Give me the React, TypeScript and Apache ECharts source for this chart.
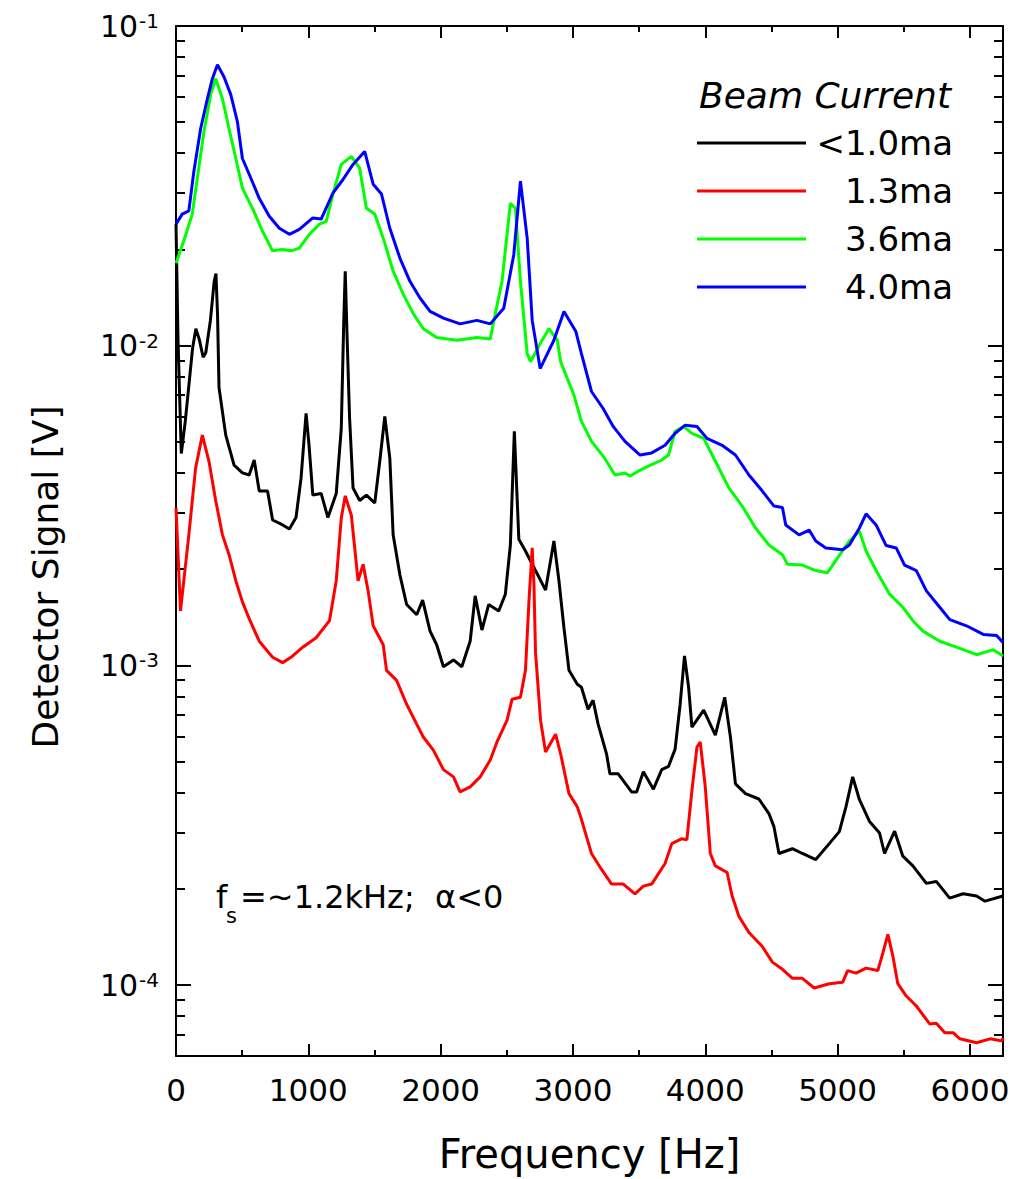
import React, { useEffect, useRef } from 'react';
import * as echarts from 'echarts';

const FONT = 'DejaVu Sans';

// [frequency Hz, detector signal V]
const blackData: [number, number][] = [
  [0, 0.024], [15, 0.0105], [40, 0.0046], [70, 0.0058], [95, 0.00735], [125, 0.0098], [150, 0.0113], [175, 0.0105],
  [205, 0.0092], [225, 0.0095], [260, 0.012], [288, 0.0158], [302, 0.0168], [314, 0.0125], [325, 0.0074], [376, 0.00525],
  [439, 0.00423], [502, 0.004], [553, 0.00394], [591, 0.00439], [629, 0.00351], [692, 0.00351], [730, 0.00285], [806, 0.00275],
  [857, 0.00267], [907, 0.0029], [945, 0.00385], [983, 0.00614], [1005, 0.0049], [1034, 0.00341], [1097, 0.00345], [1148, 0.0029],
  [1211, 0.00345], [1249, 0.00551], [1268, 0.012], [1279, 0.0171], [1292, 0.011], [1312, 0.00592], [1338, 0.00359], [1388, 0.00328],
  [1439, 0.00341], [1502, 0.00322], [1540, 0.00435], [1578, 0.00601], [1616, 0.00444], [1641, 0.00256], [1692, 0.00192], [1743, 0.00155],
  [1819, 0.00144], [1864, 0.0016], [1920, 0.00128], [1970, 0.00116], [2021, 0.00099], [2097, 0.00104], [2160, 0.00099], [2223, 0.00119],
  [2261, 0.00165], [2312, 0.00129], [2363, 0.00155], [2439, 0.00148], [2489, 0.00167], [2527, 0.00238], [2557, 0.0054], [2591, 0.00248],
  [2641, 0.00228], [2717, 0.00198], [2793, 0.00172], [2856, 0.00245], [2894, 0.00184], [2932, 0.00131], [2970, 0.000965], [3033, 0.000873],
  [3064, 0.000854], [3114, 0.000729], [3152, 0.000778], [3190, 0.000655], [3254, 0.000528], [3279, 0.000458], [3342, 0.000458], [3443, 0.000402],
  [3481, 0.000402], [3532, 0.000465], [3608, 0.00041], [3671, 0.000472], [3722, 0.000483], [3772, 0.000547], [3810, 0.000756], [3843, 0.00107],
  [3874, 0.000854], [3899, 0.000641], [3988, 0.000724], [4076, 0.000605], [4147, 0.000795], [4190, 0.000597], [4228, 0.000426], [4304, 0.000397],
  [4405, 0.000382], [4481, 0.000344], [4519, 0.000313], [4557, 0.000258], [4658, 0.000267], [4734, 0.000258], [4835, 0.000247], [4937, 0.000277],
  [5013, 0.000302], [5063, 0.000361], [5114, 0.000448], [5165, 0.00038], [5241, 0.000325], [5317, 0.000299], [5355, 0.000258], [5431, 0.000303],
  [5493, 0.000253], [5569, 0.000236], [5671, 0.000208], [5746, 0.000211], [5847, 0.000187], [5949, 0.000193], [6050, 0.00019], [6114, 0.000183],
  [6250, 0.00019],
];

const redData: [number, number][] = [
  [0, 0.00311], [34, 0.00148], [97, 0.00256], [148, 0.00414], [199, 0.00525], [249, 0.00435], [300, 0.00328], [351, 0.00256],
  [401, 0.00222], [452, 0.00184], [502, 0.00158], [553, 0.0014], [629, 0.00119], [730, 0.00106], [806, 0.00102], [869, 0.00106],
  [958, 0.00114], [1059, 0.00122], [1160, 0.00138], [1211, 0.00184], [1249, 0.00289], [1279, 0.00339], [1325, 0.00295], [1376, 0.00184],
  [1414, 0.00207], [1452, 0.00171], [1490, 0.00133], [1566, 0.00116], [1591, 0.000965], [1667, 0.000898], [1743, 0.000756], [1819, 0.000655],
  [1869, 0.000597], [1945, 0.000543], [2021, 0.000472], [2097, 0.000448], [2147, 0.000402], [2223, 0.000417], [2299, 0.000448], [2375, 0.000506],
  [2426, 0.000576], [2502, 0.000674], [2540, 0.000784], [2603, 0.000795], [2641, 0.000965], [2668, 0.0016], [2692, 0.00233], [2705, 0.0018],
  [2717, 0.0011], [2755, 0.000674], [2793, 0.000536], [2869, 0.000609], [2907, 0.000528], [2970, 0.000397], [3033, 0.000361], [3064, 0.00033],
  [3140, 0.000258], [3216, 0.00023], [3292, 0.000207], [3380, 0.000207], [3469, 0.000193], [3532, 0.000204], [3595, 0.000207], [3696, 0.00024],
  [3747, 0.000277], [3823, 0.000287], [3861, 0.000285], [3899, 0.000406], [3937, 0.000555], [3962, 0.000576], [4000, 0.000417], [4038, 0.000258],
  [4076, 0.000236], [4165, 0.000225], [4203, 0.00019], [4254, 0.000164], [4330, 0.000146], [4431, 0.000132], [4507, 0.000118], [4583, 0.000112],
  [4659, 0.000105], [4734, 0.000105], [4823, 0.0000979], [4937, 0.000101], [5038, 0.000102], [5076, 0.000111], [5139, 0.000109], [5215, 0.000113],
  [5304, 0.000111], [5342, 0.000126], [5380, 0.000144], [5418, 0.000123], [5455, 0.000101], [5519, 0.0000924], [5595, 0.000086], [5696, 0.0000756],
  [5746, 0.000076], [5810, 0.0000709], [5873, 0.000071], [5924, 0.0000679], [6050, 0.000066], [6152, 0.0000679], [6240, 0.0000669], [6250, 0.0000684],
];

const greenData: [number, number][] = [
  [0, 0.0181], [59, 0.0213], [123, 0.0258], [161, 0.0334], [211, 0.0467], [262, 0.061], [300, 0.0684], [351, 0.0592],
  [401, 0.0477], [452, 0.0385], [502, 0.0311], [578, 0.0269], [654, 0.0228], [730, 0.0198], [806, 0.02], [869, 0.0198],
  [932, 0.0202], [1008, 0.0223], [1084, 0.024], [1135, 0.0245], [1186, 0.0298], [1249, 0.0369], [1325, 0.0391], [1388, 0.0359],
  [1439, 0.0269], [1502, 0.0258], [1566, 0.0217], [1641, 0.0171], [1717, 0.0145], [1793, 0.0126], [1869, 0.0113], [1970, 0.0106],
  [2122, 0.0104], [2274, 0.0106], [2375, 0.0105], [2413, 0.0126], [2464, 0.0159], [2527, 0.0279], [2565, 0.0269], [2603, 0.0159],
  [2654, 0.00944], [2679, 0.00891], [2755, 0.0102], [2818, 0.0113], [2882, 0.0104], [2907, 0.00891], [3008, 0.00699], [3064, 0.0058],
  [3140, 0.00502], [3241, 0.00444], [3317, 0.00394], [3393, 0.004], [3431, 0.00391], [3494, 0.00405], [3570, 0.0042], [3671, 0.00439],
  [3722, 0.00455], [3772, 0.0054], [3836, 0.00559], [3899, 0.00532], [3988, 0.00513], [4076, 0.00435], [4178, 0.00359], [4279, 0.00315],
  [4380, 0.00269], [4481, 0.00238], [4583, 0.00222], [4621, 0.00207], [4734, 0.00206], [4835, 0.00198], [4924, 0.00195], [4987, 0.00213],
  [5089, 0.00245], [5165, 0.00263], [5215, 0.00228], [5291, 0.00198], [5393, 0.00167], [5493, 0.00152], [5569, 0.00138], [5645, 0.00128],
  [5772, 0.00119], [5898, 0.00114], [6050, 0.00108], [6177, 0.00112], [6250, 0.00107],
];

const blueData: [number, number][] = [
  [0, 0.024], [47, 0.0258], [97, 0.0264], [135, 0.0351], [186, 0.0477], [237, 0.0592], [275, 0.0684], [313, 0.0756],
  [363, 0.0693], [414, 0.061], [464, 0.0502], [502, 0.0385], [566, 0.0334], [629, 0.0289], [705, 0.0254], [781, 0.0233],
  [857, 0.0223], [932, 0.0231], [1034, 0.0251], [1097, 0.0249], [1186, 0.03], [1262, 0.0331], [1338, 0.0369], [1426, 0.0405],
  [1490, 0.032], [1553, 0.0298], [1616, 0.0233], [1692, 0.0188], [1768, 0.0159], [1844, 0.0141], [1920, 0.0128], [2021, 0.0122],
  [2147, 0.0117], [2274, 0.012], [2375, 0.0117], [2477, 0.0131], [2553, 0.0193], [2603, 0.0327], [2654, 0.0217], [2692, 0.012],
  [2752, 0.00848], [2856, 0.0104], [2932, 0.0128], [3021, 0.0111], [3064, 0.00944], [3140, 0.00719], [3228, 0.00636], [3304, 0.00559],
  [3393, 0.00502], [3507, 0.00455], [3595, 0.00462], [3696, 0.00488], [3772, 0.00532], [3848, 0.00564], [3937, 0.00559], [4013, 0.00513],
  [4127, 0.00488], [4228, 0.00455], [4330, 0.00394], [4431, 0.00351], [4519, 0.00315], [4583, 0.00312], [4608, 0.00275], [4709, 0.00256],
  [4785, 0.00265], [4835, 0.00245], [4911, 0.00233], [5038, 0.0023], [5089, 0.00238], [5165, 0.00269], [5215, 0.00298], [5291, 0.00275],
  [5367, 0.00237], [5443, 0.00233], [5506, 0.00206], [5595, 0.00198], [5671, 0.00171], [5772, 0.00152], [5848, 0.00139], [5974, 0.00133],
  [6101, 0.00125], [6202, 0.00124], [6250, 0.00118],
];

const seriesNames = ['<1.0ma', '1.3ma', '3.6ma', '4.0ma'];
const seriesColors = ['#000000', '#ff0000', '#00ff00', '#0000ff'];
const seriesData = [blackData, redData, greenData, blueData];

const xMin = 0;
const xMax = 6250;
const yMin = 6e-5;
const yMax = 0.1;
const xMajorTicks = [0, 1000, 2000, 3000, 4000, 5000, 6000];
const xMinorTicks = [500, 1500, 2500, 3500, 4500, 5500];
const yMajorTicks = [1e-4, 1e-3, 1e-2, 1e-1];
const yMinorTicks = [
  7e-5, 8e-5, 9e-5,
  2e-4, 3e-4, 4e-4, 5e-4, 6e-4, 7e-4, 8e-4, 9e-4,
  2e-3, 3e-3, 4e-3, 5e-3, 6e-3, 7e-3, 8e-3, 9e-3,
  2e-2, 3e-2, 4e-2, 5e-2, 6e-2, 7e-2, 8e-2, 9e-2,
];

const AX = '#000000';

function xAxisDef(position: 'top' | 'bottom', ticks: number[], len: number, showLine: boolean, labels: boolean) {
  const a: any = {
    type: 'value',
    position,
    min: xMin,
    max: xMax,
    axisLine: { show: showLine, onZero: false, lineStyle: { color: AX, width: 2 } },
    axisTick: { show: true, inside: true, length: len, customValues: ticks, lineStyle: { color: AX, width: 2 } },
    axisLabel: labels
      ? {
          show: true,
          customValues: ticks,
          margin: 18,
          formatter: (v: number) => String(v),
          fontFamily: FONT,
          fontSize: 31,
          color: '#000',
        }
      : { show: false },
    splitLine: { show: false },
    minorTick: { show: false },
  };
  if (labels) {
    a.name = 'Frequency [Hz]';
    a.nameLocation = 'middle';
    a.nameGap = 78;
    a.nameTextStyle = { fontFamily: FONT, fontSize: 40, color: '#000' };
  }
  return a;
}

function yAxisDef(position: 'left' | 'right', ticks: number[], len: number, showLine: boolean, labels: boolean) {
  return {
    type: 'log',
    logBase: 10,
    position,
    min: yMin,
    max: yMax,
    axisLine: { show: showLine, onZero: false, lineStyle: { color: AX, width: 2 } },
    axisTick: { show: true, inside: true, length: len, customValues: ticks, lineStyle: { color: AX, width: 2 } },
    axisLabel: labels
      ? {
          show: true,
          customValues: ticks,
          margin: 17,
          formatter: (v: number) => `{b|10}{s|${Math.round(Math.log10(v))}}`,
          rich: {
            b: { fontFamily: FONT, fontSize: 30, lineHeight: 30, verticalAlign: 'bottom', color: '#000' },
            s: { fontFamily: FONT, fontSize: 20, lineHeight: 20, padding: [0, 0, 18, 1], verticalAlign: 'top', color: '#000' },
          },
        }
      : { show: false },
    splitLine: { show: false },
    minorTick: { show: false },
  };
}

export default function App() {
  const ref = useRef<HTMLDivElement>(null);
  useEffect(() => {
    if (!ref.current) return;
    const chart = echarts.init(ref.current, null, { renderer: 'svg' });
    const option: any = {
      animation: false,
      backgroundColor: '#ffffff',
      grid: { left: 176, right: 29, top: 26, bottom: 121, containLabel: false },
      title: {
        text: 'Beam Current',
        left: 699,
        top: 77,
        padding: 0,
        textStyle: { fontFamily: FONT, fontStyle: 'italic', fontWeight: 'normal', fontSize: 36, color: '#000' },
      },
      legend: {
        data: seriesNames,
        orient: 'vertical',
        left: 697,
        top: 126,
        padding: 0,
        icon: 'rect',
        itemWidth: 109,
        itemHeight: 3,
        itemGap: 14,
        formatter: (name: string) => `{r|${name}}`,
        textStyle: {
          fontFamily: FONT,
          fontSize: 34,
          lineHeight: 34,
          color: '#000',
          rich: { r: { fontFamily: FONT, fontSize: 34, lineHeight: 34, width: 142, align: 'right', color: '#000' } },
        },
      },
      xAxis: [
        xAxisDef('bottom', xMajorTicks, 12, true, true),
        xAxisDef('bottom', xMinorTicks, 6, false, false),
        xAxisDef('top', xMajorTicks, 12, true, false),
        xAxisDef('top', xMinorTicks, 6, false, false),
      ],
      yAxis: [
        yAxisDef('left', yMajorTicks, 15, true, true),
        yAxisDef('left', yMinorTicks, 9, false, false),
        yAxisDef('right', yMajorTicks, 15, true, false),
        yAxisDef('right', yMinorTicks, 9, false, false),
      ],
      series: seriesNames.map((name, i) => ({
        name,
        type: 'line',
        xAxisIndex: 0,
        yAxisIndex: 0,
        data: seriesData[i],
        symbol: 'none',
        showSymbol: false,
        clip: true,
        lineStyle: { color: seriesColors[i], width: 3 },
        itemStyle: { color: seriesColors[i] },
        emphasis: { disabled: true },
      })),
      graphic: [
        {
          type: 'text',
          x: 45,
          y: 577,
          rotation: Math.PI / 2,
          style: { text: 'Detector Signal [V]', fill: '#000', font: `36px "${FONT}"`, align: 'center', verticalAlign: 'middle' },
        },
        {
          type: 'text',
          x: 216,
          y: 897,
          style: { text: 'f', fill: '#000', font: `32px "${FONT}"`, align: 'left', verticalAlign: 'middle' },
        },
        {
          type: 'text',
          x: 226,
          y: 916,
          style: { text: 's', fill: '#000', font: `21px "${FONT}"`, align: 'left', verticalAlign: 'middle' },
        },
        {
          type: 'text',
          x: 240,
          y: 897,
          style: { text: '=~1.2kHz;  \u03B1<0', fill: '#000', font: `32px "${FONT}"`, align: 'left', verticalAlign: 'middle' },
        },
      ],
    };
    chart.setOption(option);
    return () => chart.dispose();
  }, []);
  return (
    <div
      ref={ref}
      style={{ position: 'fixed', left: 0, top: 0, width: 1032, height: 1179, background: '#fff' }}
    />
  );
}
